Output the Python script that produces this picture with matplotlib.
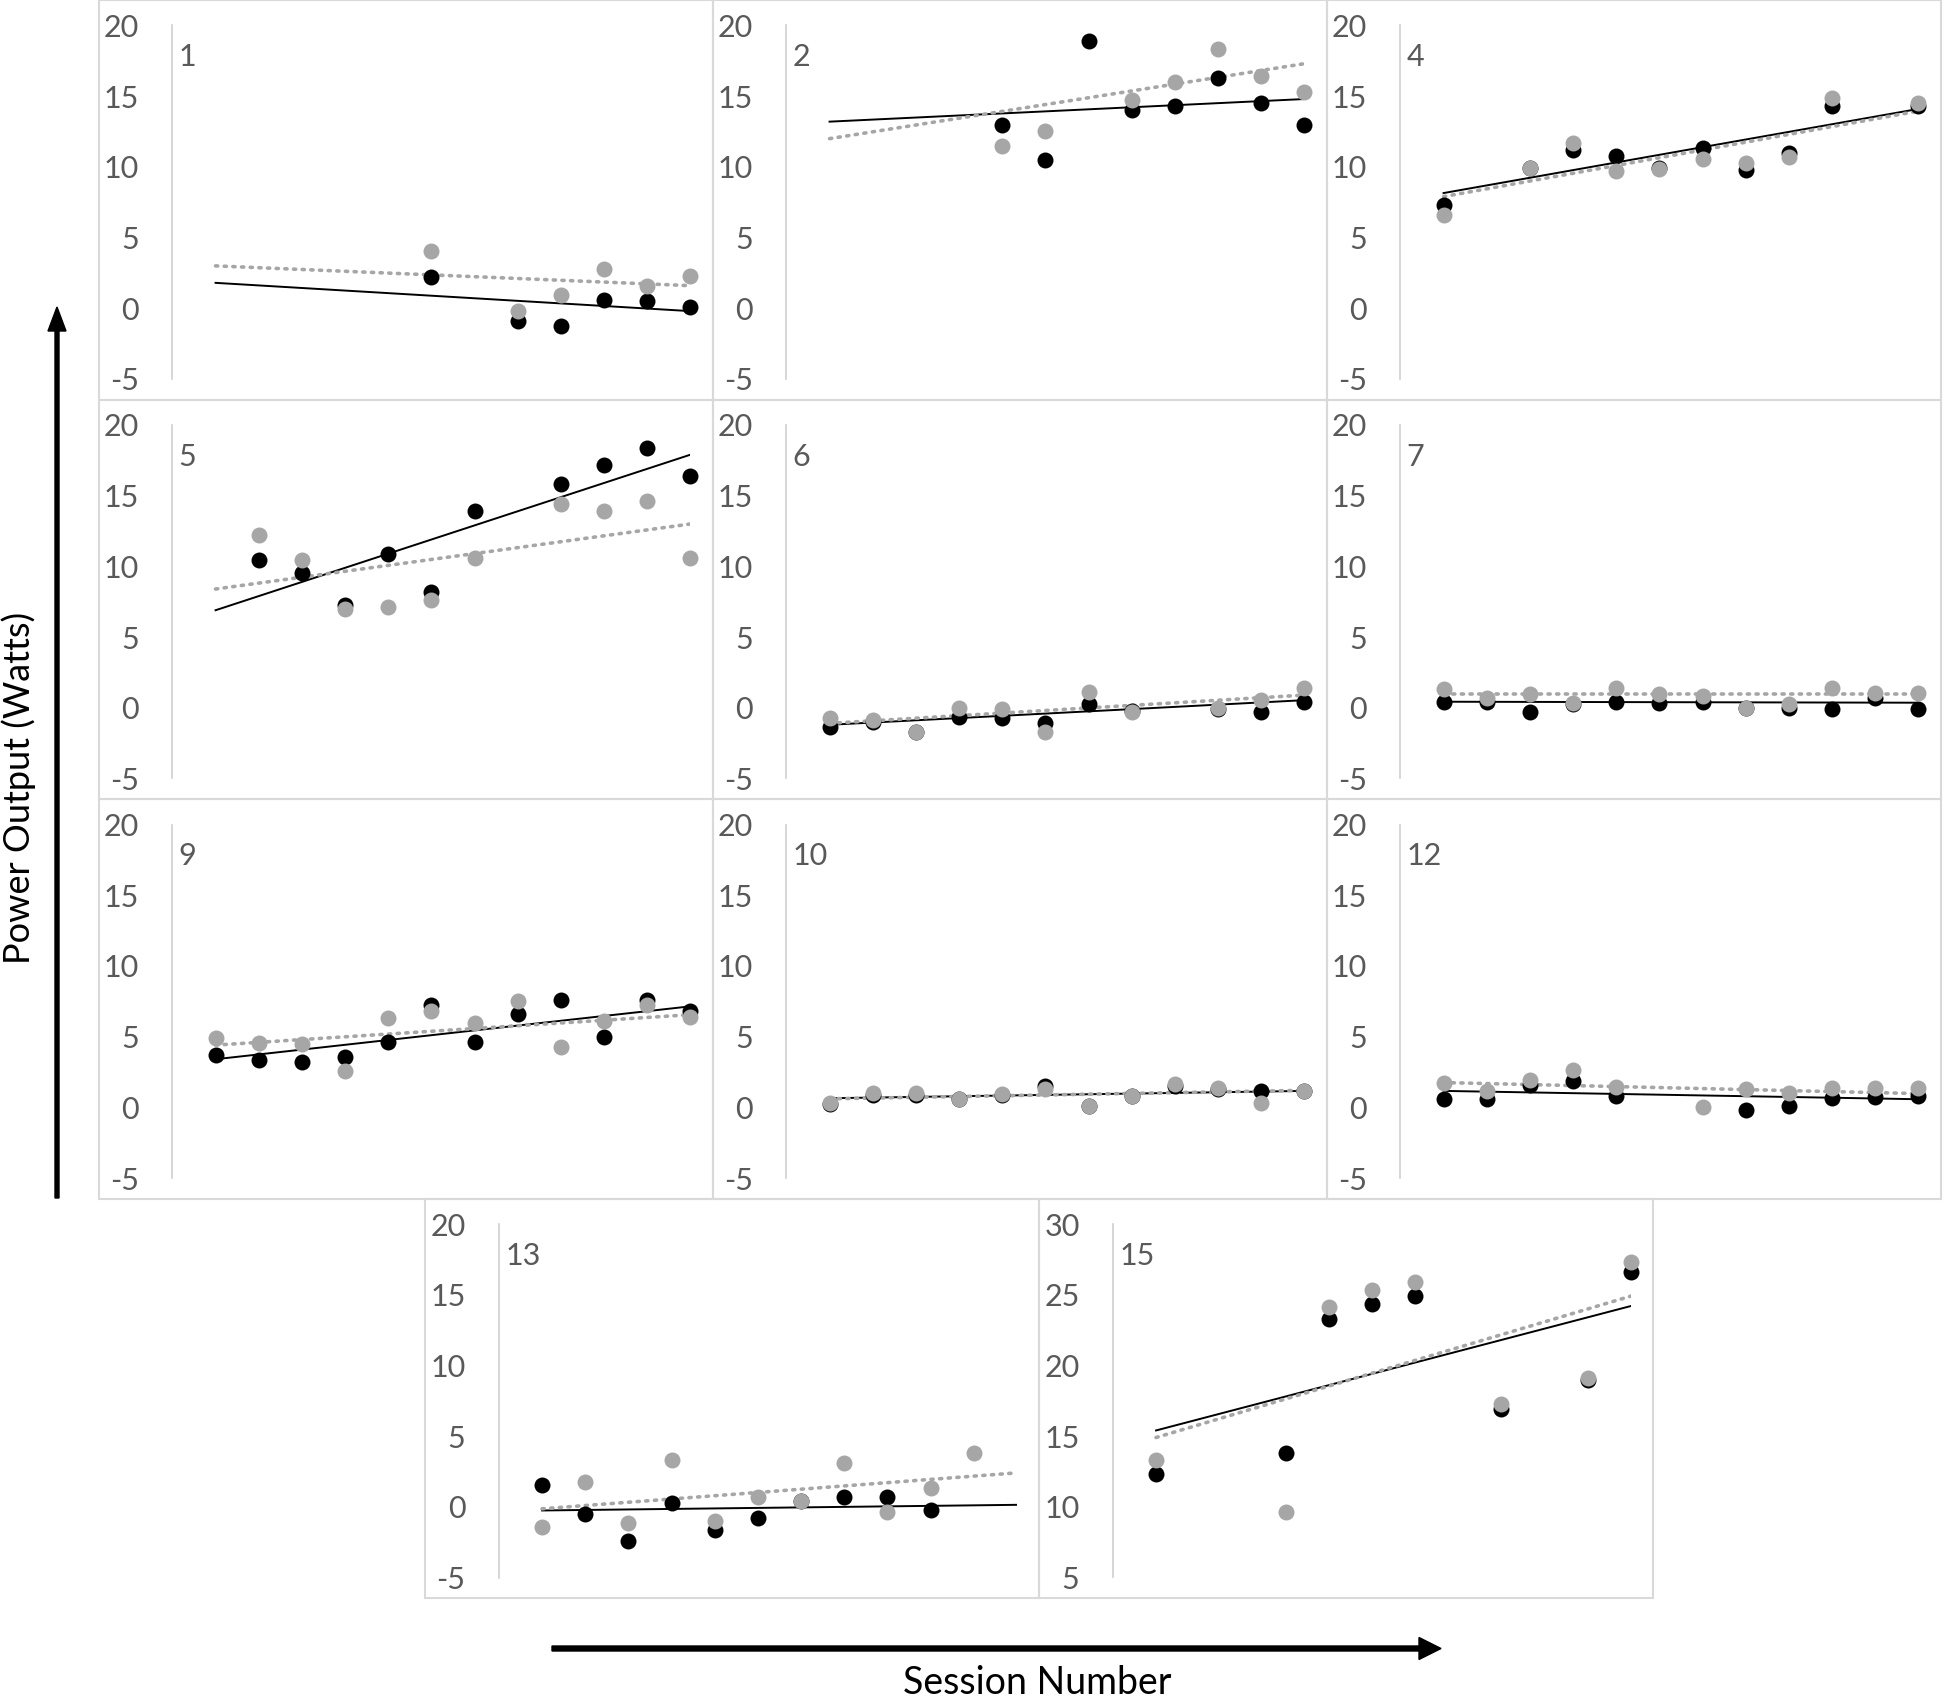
import matplotlib
matplotlib.use('Agg')
import matplotlib.pyplot as plt
from matplotlib.patches import Rectangle
import numpy as np

nan = np.nan

# session numbers shared by every panel
sessions = list(range(1, 13))

panel_ids = ['1', '2', '4', '5', '6', '7', '9', '10', '12', '13', '15']

# power output per session (Watts), black and grey series
p1_black = [nan, nan, nan, nan, nan, 2.2, nan, -0.87, -1.23, 0.59, 0.54, 0.07]
p1_gray = [nan, nan, nan, nan, nan, 4.08, nan, -0.17, 0.94, 2.78, 1.6, 2.31]
p2_black = [nan, nan, nan, nan, 12.97, 10.5, 18.9, 14.0, 14.3, 16.3, 14.5, 12.97]
p2_gray = [nan, nan, nan, nan, 11.5, 12.57, nan, 14.7, 16.0, 18.35, 16.4, 15.3]
p4_black = [7.3, nan, 9.9, 11.2, 10.8, 9.9, 11.35, 9.8, 11.0, 14.3, nan, 14.3]
p4_gray = [6.6, nan, 9.9, 11.7, 9.7, 9.86, 10.57, 10.3, 10.7, 14.9, nan, 14.5]
p5_black = [nan, 10.45, 9.5, 7.26, 10.85, 8.2, 13.9, nan, 15.8, 17.2, 18.4, 16.4]
p5_gray = [nan, 12.2, 10.45, 7.0, 7.15, 7.6, 10.6, nan, 14.4, 13.9, 14.6, 10.6]
p6_black = [-1.35, -1.0, -1.7, -0.64, -0.7, -1.1, 0.3, -0.25, nan, -0.05, -0.28, 0.42]
p6_gray = [-0.75, -0.87, -1.7, 0.0, -0.05, -1.7, 1.13, -0.28, nan, 0.0, 0.54, 1.37]
p7_black = [0.43, 0.43, -0.29, 0.24, 0.43, 0.36, 0.43, 0.0, 0.0, -0.12, 0.7, -0.12]
p7_gray = [1.3, 0.7, 1.0, 0.36, 1.43, 1.0, 0.83, 0.0, 0.24, 1.43, 1.07, 1.07]
p9_black = [3.7, 3.33, 3.2, 3.57, 4.64, 7.26, 4.64, 6.6, 7.6, 4.95, 7.6, 6.8]
p9_gray = [4.9, 4.57, 4.5, 2.6, 6.3, 6.8, 5.95, 7.5, 4.24, 6.07, 7.26, 6.4]
p10_black = [0.2, 0.85, 0.85, 0.57, 0.9, 1.5, 0.1, 0.8, 1.5, 1.28, 1.16, 1.16]
p10_gray = [0.33, 1.0, 1.0, 0.57, 0.92, 1.28, 0.1, 0.8, 1.68, 1.4, 0.33, 1.16]
p12_black = [0.57, 0.57, 1.6, 1.87, 0.8, nan, nan, -0.2, 0.1, 0.69, 0.73, 0.8]
p12_gray = [1.75, 1.16, 1.9, 2.63, 1.45, nan, 0.0, 1.28, 1.04, 1.4, 1.35, 1.35]
p13_black = [1.56, -0.5, -2.44, 0.28, -1.63, -0.8, 0.4, 0.69, 0.69, -0.26, nan, nan]
p13_gray = [-1.45, 1.75, -1.16, 3.34, -0.97, 0.69, 0.38, 3.1, -0.38, 1.33, 3.77, nan]
p15_black = [12.35, nan, nan, 13.77, 23.3, 24.36, 24.9, nan, 16.9, nan, 19.0, 26.6]
p15_gray = [13.3, nan, nan, 9.62, 24.1, 25.3, 25.9, nan, 17.3, nan, 19.1, 27.3]

# linear trend lines: value at session 1 and session 12
trend_black = [(1.8, -0.2), (13.2, 14.8), (8.15, 14.1), (6.9, 17.9), (-1.2, 0.54),
               (0.43, 0.36), (3.4, 7.14), (0.64, 1.16), (1.16, 0.57), (-0.26, 0.14),
               (15.4, 24.2)]
trend_gray = [(3.0, 1.6), (12.0, 17.3), (7.9, 13.95), (8.4, 13.0), (-1.1, 0.9),
              (0.95, 0.95), (4.4, 6.55), (0.6, 1.2), (1.75, 0.97), (-0.14, 2.4),
              (14.9, 24.9)]

black_series = [p1_black, p2_black, p4_black, p5_black, p6_black, p7_black,
                p9_black, p10_black, p12_black, p13_black, p15_black]
gray_series = [p1_gray, p2_gray, p4_gray, p5_gray, p6_gray, p7_gray,
               p9_gray, p10_gray, p12_gray, p13_gray, p15_gray]

ticks_default = [-5, 0, 5, 10, 15, 20]
ticks_p15 = [5, 10, 15, 20, 25, 30]


def main():
    W, H = 1945, 1703
    plt.rcParams['font.family'] = ['Lato', 'DejaVu Sans']
    plt.rcParams['axes.unicode_minus'] = False

    fig = plt.figure(figsize=(W / 100, H / 100), dpi=100)
    bg = fig.add_axes([0, 0, 1, 1])
    bg.set_xlim(0, W)
    bg.set_ylim(H, 0)
    bg.axis('off')

    # panel frames (left, top) in pixels
    bw, bh = 614, 399.5
    cols = [99, 713, 1327]
    rows = [0, 399.5, 799, 1198.5]
    frames = [(cols[0], rows[0]), (cols[1], rows[0]), (cols[2], rows[0]),
              (cols[0], rows[1]), (cols[1], rows[1]), (cols[2], rows[1]),
              (cols[0], rows[2]), (cols[1], rows[2]), (cols[2], rows[2]),
              (425.5, rows[3]), (1039.5, rows[3])]

    for i, pid in enumerate(panel_ids):
        fl, ft = frames[i]
        bg.add_patch(Rectangle((fl, ft), bw, bh, fill=False, ec='#d9d9d9', lw=1.5))

        left = fl + 73.4
        right = fl + 591.4
        top = ft + 25.5
        bottom = ft + 379
        ax = fig.add_axes([left / W, 1 - bottom / H, (right - left) / W, (bottom - top) / H])
        ax.patch.set_alpha(0)

        ticks = ticks_p15 if pid == '15' else ticks_default
        ax.set_ylim(ticks[0], ticks[-1])
        ax.set_yticks(ticks)
        ax.set_xlim(0, 12)
        ax.set_xticks([])
        for s in ['top', 'right', 'bottom']:
            ax.spines[s].set_visible(False)
        ax.spines['left'].set_color('#d0d0d0')
        ax.spines['left'].set_linewidth(1.2)
        ax.tick_params(axis='y', length=0, pad=24, labelsize=22, labelcolor='#595959')

        tb = trend_black[i]
        tg = trend_gray[i]
        ax.plot([sessions[0], sessions[-1]], tb, color='black', lw=1.4, zorder=2)
        ax.plot([sessions[0], sessions[-1]], tg, color='#a6a6a6', lw=2.6,
                linestyle=(0, (0.6, 1.8)), dash_capstyle='round', zorder=3)

        ax.plot(sessions, black_series[i], 'o', color='black', ms=11.5, mec='none',
                clip_on=False, zorder=4)
        ax.plot(sessions, gray_series[i], 'o', color='#a6a6a6', ms=11.5, mec='none',
                clip_on=False, zorder=5)

        ax.text(0.012, 0.91, pid, transform=ax.transAxes, ha='left', va='center',
                fontsize=22, color='#595959')

    # axis arrows
    bg.arrow(57, 1198, 0, 307 - 1198, width=4, head_width=18, head_length=24,
             length_includes_head=True, color='black')
    bg.arrow(552, 1648.5, 1441 - 552, 0, width=5, head_width=22, head_length=22,
             length_includes_head=True, color='black')

    bg.text(19, 788, 'Power Output (Watts)', rotation=90, ha='center', va='center',
            fontsize=26, color='black')
    bg.text(1037, 1701, 'Session Number', ha='center', va='bottom',
            fontsize=27, color='black')

    fig.savefig('out.png', dpi=100, facecolor='white')


if __name__ == '__main__':
    main()
